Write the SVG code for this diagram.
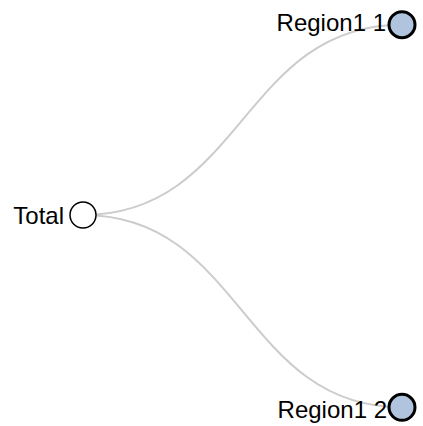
<svg xmlns="http://www.w3.org/2000/svg" width="423" height="426" viewBox="0 0 423 426">
<style>
.link{fill:none;stroke:#ccc;stroke-width:2}
.node circle{stroke:#000}
.leaf circle{fill:#b0c4de;stroke-width:3}
.root circle{fill:#fff;stroke-width:1.5}
text{font-family:"Liberation Sans",Arial,sans-serif;font-size:24px;fill:#000;text-anchor:end}
</style>
<rect width="423" height="426" fill="#fff"/>
<g id="links">
<path class="link" d="M83,215C242.5,215 242.5,24.7 402,24.7"/>
<path class="link" d="M83,215C242.5,215 242.5,407.3 402,407.3"/>
</g>
<g id="node-total" class="node root">
<circle cx="83" cy="215" r="13"/>
<text x="64" y="224.3">Total</text>
</g>
<g id="node-region1-1" class="node leaf">
<circle cx="402" cy="24.7" r="13"/>
<text x="386" y="31">Region1 1</text>
</g>
<g id="node-region1-2" class="node leaf">
<circle cx="402" cy="407.3" r="13"/>
<text x="387" y="418.3">Region1 2</text>
</g>
</svg>
